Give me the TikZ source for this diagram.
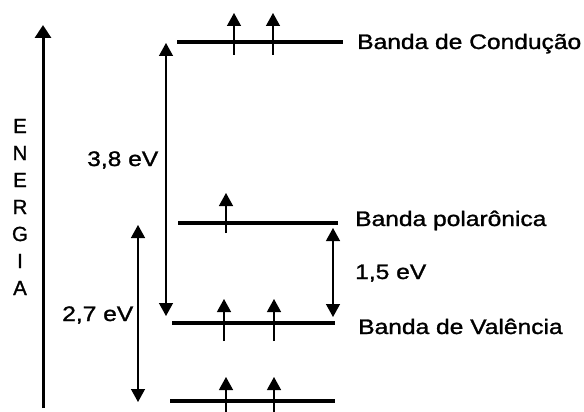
\documentclass[tikz,border=0pt]{standalone}
\usepackage{fontspec}
\setmainfont{Liberation Sans}
\newfontfamily\heavysans[FakeBold=1.2]{Liberation Sans}
\usetikzlibrary{arrows.meta}

\begin{document}
\begin{tikzpicture}[x=1pt, y=1pt, >={Triangle[length=13pt,width=14pt]},
  band/.style={line width=3.5pt},
  spin/.style={->, line width=1.3pt},
  gap/.style={<->, line width=1.3pt},
  lbl/.style={anchor=base west, inner sep=0pt, font=\heavysans\fontsize{21}{24}\selectfont, xscale=1.17}]
  \useasboundingbox (0,0) rectangle (584,-412);

  % Energy axis
  \coordinate (axbot) at (43,-408);
  \coordinate (axtop) at (43,-25);
  \draw[line width=3pt, -{Triangle[length=13pt,width=16pt]}] (axbot) -- (axtop);
  \node[font=\heavysans\fontsize{20.5}{27}\selectfont, align=center] (energia) at (20,-207)
    {E\\N\\E\\R\\G\\I\\A};

  % Bands
  \coordinate (cb-l) at (177,-42);  \coordinate (cb-r) at (343,-42);
  \coordinate (pb-l) at (178,-223); \coordinate (pb-r) at (338,-223);
  \coordinate (vb-l) at (172,-323); \coordinate (vb-r) at (335,-323);
  \coordinate (lb-l) at (170,-401); \coordinate (lb-r) at (335,-401);
  \draw[band] (cb-l) -- (cb-r);
  \draw[band] (pb-l) -- (pb-r);
  \draw[band] (vb-l) -- (vb-r);
  \draw[band] (lb-l) -- (lb-r);

  % Band labels
  \node[lbl] (cond)  at (357,-49)  {Banda de Condução};
  \node[lbl] (polar) at (355,-226) {Banda polarônica};
  \node[lbl] (val)   at (358,-334) {Banda de Valência};

  % Spins
  \draw[spin] (234,-55) -- (234,-13);
  \draw[spin] (273,-55) -- (273,-13);
  \draw[spin] (226,-233) -- (226,-193);
  \draw[spin] (224,-341) -- (224,-299);
  \draw[spin] (274,-341) -- (274,-299);
  \draw[spin] (226,-412) -- (226,-377);
  \draw[spin] (274,-412) -- (274,-377);

  % Gaps
  \coordinate (g38-t) at (166,-43);  \coordinate (g38-b) at (166,-316);
  \coordinate (g27-t) at (138,-225); \coordinate (g27-b) at (138,-402);
  \coordinate (g15-t) at (333,-228); \coordinate (g15-b) at (333,-317);
  \draw[gap] (g38-t) -- (g38-b);
  \draw[gap] (g27-t) -- (g27-b);
  \draw[gap] (g15-t) -- (g15-b);
  \node[lbl] (e38) at (87,-166)  {3,8 eV};
  \node[lbl] (e27) at (62,-321)  {2,7 eV};
  \node[lbl] (e15) at (355,-279) {1,5 eV};
\end{tikzpicture}
\end{document}
